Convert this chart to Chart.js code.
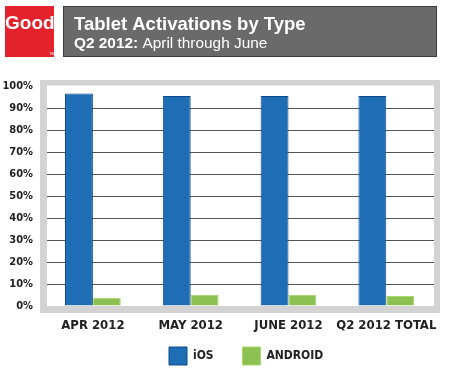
<!DOCTYPE html>
<html>
<head>
<meta charset="utf-8">
<script src="https://cdn.jsdelivr.net/npm/chart.js@4.4.1/dist/chart.umd.min.js"></script>
<style>
  html, body { margin: 0; padding: 0; background: #ffffff; }
  #wrap { width: 450px; height: 375px; }
</style>
</head>
<body>
<div id="wrap"><canvas id="c" width="450" height="375"></canvas></div>
<script>
// ---- data ----
const categories = ['APR 2012', 'MAY 2012', 'JUNE 2012', 'Q2 2012 TOTAL'];
const iosValues = [96.6, 95.4, 95.4, 95.4];
const androidValues = [3.7, 5.0, 5.0, 4.5];
const seriesNames = ['iOS', 'ANDROID'];
const titleText = 'Tablet Activations by Type';
const subtitleBold = 'Q2 2012:';
const subtitleRest = ' April through June';
const logoText = 'Good';

const NARROW = "'Liberation Sans Narrow', 'DejaVu Sans Condensed', 'Arial Narrow', sans-serif";
const SANS = "'Liberation Sans', Arial, Helvetica, sans-serif";
const LEGEND_START_X = 169;

const decor = {
  id: 'decor',
  afterLayout(chart) {
    const lg = chart.legend;
    if (lg && lg.lineWidths) {
      const pad = lg.options.labels.padding;
      const x0 = (lg.left + pad + lg.right - lg.lineWidths[0]) / 2;
      const dx = LEGEND_START_X - x0;
      lg.left += dx;
      lg.right += dx;
    }
  },
  beforeDraw(chart) {
    const ctx = chart.ctx;
    ctx.save();
    ctx.fillStyle = '#ffffff';
    ctx.fillRect(0, 0, chart.width, chart.height);
    // logo
    ctx.fillStyle = '#e3222c';
    ctx.fillRect(5, 6, 49, 51);
    ctx.fillStyle = '#ffffff';
    ctx.font = 'bold 19px ' + SANS;
    ctx.textBaseline = 'alphabetic';
    ctx.textAlign = 'left';
    ctx.fillText(logoText, 5, 29);
    ctx.font = '4px ' + SANS;
    ctx.fillText('TM', 49, 55);
    // title box
    ctx.fillStyle = '#6a6a6a';
    ctx.fillRect(63, 6, 374, 51);
    ctx.strokeStyle = '#3c3c3c';
    ctx.lineWidth = 1;
    ctx.strokeRect(63.5, 6.5, 373, 50);
    ctx.fillStyle = '#ffffff';
    ctx.font = 'bold 18.5px ' + SANS;
    ctx.fillText(titleText, 74, 30);
    ctx.font = 'bold 15.4px ' + SANS;
    ctx.fillText(subtitleBold, 74, 48);
    const w = ctx.measureText(subtitleBold).width;
    ctx.font = '15.4px ' + SANS;
    ctx.fillText(subtitleRest, 74 + w, 48);
    // plot frame
    ctx.fillStyle = '#d3d3d3';
    ctx.fillRect(40, 80, 400, 233);
    ctx.fillStyle = '#ffffff';
    ctx.fillRect(47, 85.5, 387, 220.5);
    ctx.restore();
  },
  beforeDatasetsDraw(chart) {
    const ctx = chart.ctx;
    ctx.save();
    ctx.fillStyle = '#d3d3d3';
    ctx.fillRect(40, 80, 7, 233);
    ctx.fillRect(434, 80, 6, 233);
    ctx.restore();
  }
};

new Chart(document.getElementById('c'), {
  type: 'bar',
  data: {
    labels: categories,
    datasets: [
      {
        label: seriesNames[0],
        data: iosValues,
        backgroundColor: '#1f6db4',
        borderColor: '#0d4a8a',
        borderWidth: 1,
        barPercentage: 1.0,
        categoryPercentage: 0.57
      },
      {
        label: seriesNames[1],
        data: androidValues,
        backgroundColor: '#8cc152',
        borderColor: '#a9d672',
        borderWidth: 1,
        barPercentage: 1.0,
        categoryPercentage: 0.57
      }
    ]
  },
  options: {
    responsive: false,
    animation: false,
    devicePixelRatio: 1,
    layout: { padding: { top: 86, left: 0, right: 13, bottom: 0 } },
    scales: {
      x: {
        grid: { display: false, drawTicks: false },
        border: { display: false },
        ticks: {
          color: '#222222',
          padding: 12,
          font: { family: NARROW, size: 13, weight: 'bold' },
          maxRotation: 0,
          autoSkip: false
        },
        afterFit(scale) { scale.height = 31; }
      },
      y: {
        min: 0,
        max: 100,
        grid: {
          drawTicks: false,
          color: (c) => (c.tick && (c.tick.value === 0 || c.tick.value === 100)) ? 'rgba(0,0,0,0)' : '#555555',
          lineWidth: 1
        },
        border: { display: false },
        ticks: {
          stepSize: 10,
          padding: 11,
          color: '#222222',
          font: { family: NARROW, size: 11, weight: 'bold' },
          callback: (v) => v + '%'
        },
        afterFit(scale) { scale.width = 44; }
      }
    },
    plugins: {
      title: { display: false },
      tooltip: { enabled: false },
      legend: {
        display: true,
        position: 'bottom',
        labels: {
          boxWidth: 18,
          boxHeight: 18,
          padding: 10,
          color: '#222222',
          font: { family: NARROW, size: 12, weight: 'bold' },
          generateLabels(chart) {
            const items = Chart.defaults.plugins.legend.labels.generateLabels(chart);
            items.forEach((it, i) => { if (i === 0) it.text = it.text + '\u00a0\u00a0\u00a0\u00a0\u00a0'; });
            return items;
          }
        }
      }
    }
  },
  plugins: [decor]
});
</script>
</body>
</html>
